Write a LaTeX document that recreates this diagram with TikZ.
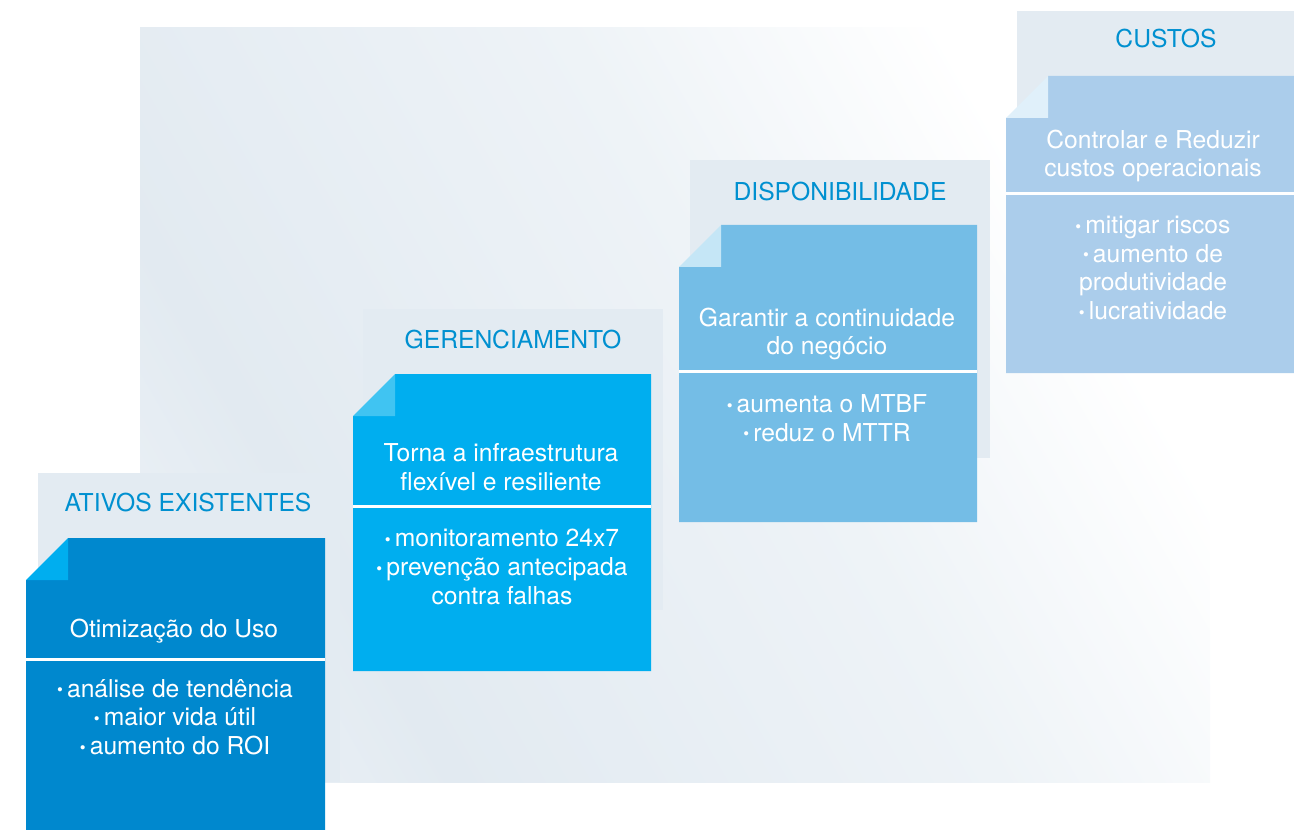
\documentclass[tikz,border=0pt]{standalone}
\usepackage{fontspec}
\setmainfont{TeX Gyre Heros}
\usepackage{tikz}
\tikzset{every picture/.style={line width=0.75pt}}
\pgfdeclarehorizontalshading{bgfade}{100bp}{color(0bp)=(white); color(30bp)=({rgb, 255:red, 226; green, 234; blue, 241}); color(55bp)=({rgb, 255:red, 238; green, 243; blue, 247}); color(72bp)=(white); color(100bp)=(white)}
\tikzset{
  hdrbox/.style={fill={rgb, 255:red, 227; green, 235; blue, 242}},
  hdrtitle/.style={inner sep=0.75pt, align=center, color={rgb, 255:red, 0; green, 144; blue, 208}, font=\fontsize{18.5}{21.5}\selectfont},
  boxtext/.style={inner sep=0.75pt, align=center, color=white, font=\fontsize{18.5}{21.5}\selectfont},
  sepline/.style={draw=white, line width=2.25pt}
}
\newcommand{\bul}{\raisebox{0.1ex}{\fontsize{12.5}{12.5}\selectfont\textbullet}\,}
\begin{document}
\begin{tikzpicture}[x=0.75pt,y=0.75pt,yscale=-1,xscale=1]
\useasboundingbox (0,0) rectangle (1294,830);
% background
\shade [shading=bgfade, shading angle=30] (140,28) rectangle (1210,782);
% headers
\fill [hdrbox] (38,473) rectangle (340,782);
\fill [hdrbox] (363,309) rectangle (663,610);
\fill [hdrbox] (690,160) rectangle (990,458);
\fill [hdrbox] (1017,11) rectangle (1294,330);
\draw (188,503) node (hdrA) [hdrtitle] {ATIVOS EXISTENTES};
\draw (513,340) node (hdrB) [hdrtitle] {GERENCIAMENTO};
\draw (840,192) node (hdrC) [hdrtitle] {DISPONIBILIDADE};
\draw (1166,39) node (hdrD) [hdrtitle] {CUSTOS};
% ativos existentes
\fill [color={rgb, 255:red, 0; green, 136; blue, 206}] (68,538) -- (325,538) -- (325,830) -- (26,830) -- (26,580) -- (68,580) -- cycle;
\fill [color={rgb, 255:red, 0; green, 174; blue, 239}] (26,580) -- (68,538) -- (68,580) -- cycle;
\draw [sepline] (26,659) -- (325,659);
\draw (174,631) node (titA) [boxtext] {Otimização do Uso};
\draw (175,717) node (bulA) [boxtext] {\bul análise de tendência\\ \bul maior vida útil\\ \bul aumento do ROI};
% gerenciamento
\fill [color={rgb, 255:red, 0; green, 174; blue, 239}] (395,374) -- (651,374) -- (651,671) -- (353,671) -- (353,416) -- (395,416) -- cycle;
\fill [color={rgb, 255:red, 64; green, 196; blue, 242}] (353,416) -- (395,374) -- (395,416) -- cycle;
\draw [sepline] (353,506) -- (651,506);
\draw (501,467) node (titB) [boxtext] {Torna a infraestrutura\\ flexível e resiliente};
\draw (502,567) node (bulB) [boxtext] {\bul monitoramento 24x7\\ \bul prevenção antecipada\\ contra falhas};
% disponibilidade
\fill [color={rgb, 255:red, 116; green, 189; blue, 230}] (721,225) -- (977,225) -- (977,522) -- (679,522) -- (679,267) -- (721,267) -- cycle;
\fill [color={rgb, 255:red, 197; green, 230; blue, 246}] (679,267) -- (721,225) -- (721,267) -- cycle;
\draw [sepline] (679,371) -- (977,371);
\draw (827,334) node (titC) [boxtext] {Garantir a continuidade\\ do negócio};
\draw (827,418) node (bulC) [boxtext] {\bul aumenta o MTBF\\ \bul reduz o MTTR};
% custos
\fill [color={rgb, 255:red, 171; green, 205; blue, 235}] (1048,76) -- (1294,76) -- (1294,373) -- (1006,373) -- (1006,118) -- (1048,118) -- cycle;
\fill [color={rgb, 255:red, 224; green, 240; blue, 250}] (1006,118) -- (1048,76) -- (1048,118) -- cycle;
\draw [sepline] (1006,194) -- (1294,194);
\draw (1153,156) node (titD) [boxtext] {Controlar e Reduzir\\ custos operacionais};
\draw (1153,268) node (bulD) [boxtext] {\bul mitigar riscos\\ \bul aumento de\\ produtividade\\ \bul lucratividade};
\end{tikzpicture}
\end{document}
